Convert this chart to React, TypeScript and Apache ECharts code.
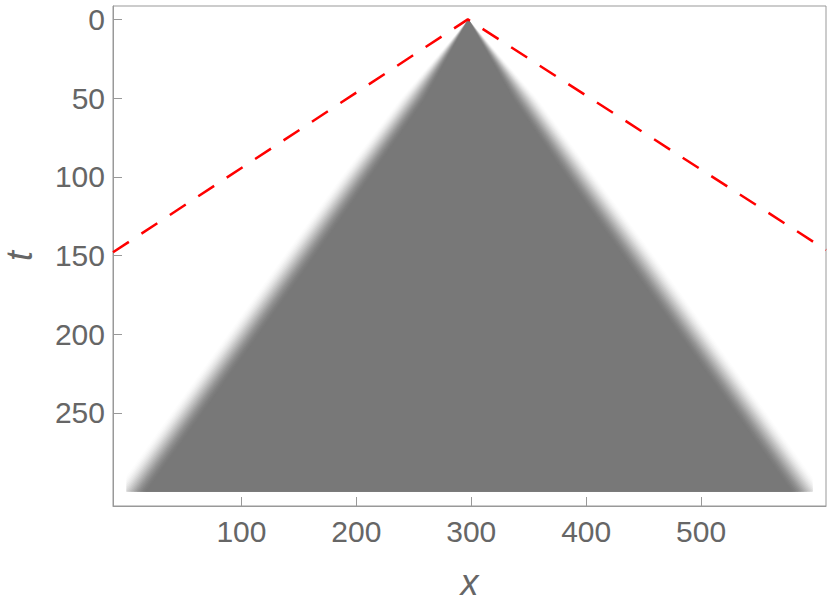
import React, { useEffect, useRef } from "react";
import * as echarts from "echarts";

// Light-cone density: edge mid-lines and blur width (x units) at sampled t
const coneT = [0, 50, 100, 150, 200, 250, 300];
const coneLeft = [297.5, 249, 199, 150, 101, 52, 3];
const coneRight = [297.5, 347, 396, 446, 495, 544, 593];
const coneBlur = [0, 22, 26, 28, 28, 28, 28];
const coneXRange = [0, 597];
const coneGray = 120;

// Red dashed bound
const redX = [-11.8, 297, 608.7];
const redT = [148, 0, 146.5];

const xTicks = [100, 200, 300, 400, 500];
const tTicks = [0, 50, 100, 150, 200, 250];

type P = [number, number];

function clipPoly(pts: P[], xmin: number, xmax: number): P[] {
  const clipEdge = (input: P[], inside: (p: P) => boolean, xe: number): P[] => {
    const out: P[] = [];
    for (let i = 0; i < input.length; i++) {
      const cur = input[i];
      const prev = input[(i + input.length - 1) % input.length];
      const ci = inside(cur);
      const pi = inside(prev);
      const inter = (): P => {
        const tt = (xe - prev[0]) / (cur[0] - prev[0]);
        return [xe, prev[1] + tt * (cur[1] - prev[1])];
      };
      if (ci) {
        if (!pi) out.push(inter());
        out.push(cur);
      } else if (pi) {
        out.push(inter());
      }
    }
    return out;
  };
  let r = clipEdge(pts, (p) => p[0] >= xmin, xmin);
  r = clipEdge(r, (p) => p[0] <= xmax, xmax);
  return r;
}

export default function App() {
  const ref = useRef<HTMLDivElement>(null);
  useEffect(() => {
    if (!ref.current) return;
    const chart = echarts.init(ref.current, undefined, { renderer: "svg" });
    const N = 22;
    const labelFont = "Liberation Sans";
    const option: any = {
      animation: false,
      backgroundColor: "#ffffff",
      grid: {
        left: 113,
        top: 6,
        right: 4,
        bottom: 103,
        show: true,
        borderColor: "#999999",
        borderWidth: 1,
        backgroundColor: "transparent",
        containLabel: false,
        outerBoundsMode: "none",
      },
      xAxis: {
        type: "value",
        min: -11.8,
        max: 608.7,
        axisLine: { show: true, onZero: false, lineStyle: { color: "#999999", width: 1 } },
        axisTick: { show: true, inside: true, length: 9, customValues: xTicks, lineStyle: { color: "#999999" } },
        axisLabel: { customValues: xTicks, color: "#666666", fontSize: 30, fontFamily: labelFont, margin: 10 },
        splitLine: { show: false },
        name: "x",
        nameLocation: "middle",
        nameGap: 58,
        nameTextStyle: { fontStyle: "italic", fontSize: 36, color: "#666666", fontFamily: labelFont },
      },
      yAxis: {
        type: "value",
        inverse: true,
        min: -8.5,
        max: 309.2,
        axisLine: { show: true, onZero: false, lineStyle: { color: "#999999", width: 1 } },
        axisTick: { show: true, inside: true, length: 9, customValues: tTicks, lineStyle: { color: "#999999" } },
        axisLabel: { customValues: tTicks, color: "#666666", fontSize: 30, fontFamily: labelFont, margin: 8 },
        splitLine: { show: false },
        name: "t",
        nameLocation: "middle",
        nameRotate: 90,
        nameGap: 79,
        nameTextStyle: {
          fontStyle: "italic",
          fontSize: 36,
          lineHeight: 30,
          color: "#666666",
          fontFamily: labelFont,
        },
      },
      series: [
        {
          type: "custom",
          coordinateSystem: "cartesian2d",
          silent: true,
          z: 1,
          data: [[coneLeft[0], coneT[0]]],
          renderItem: (params: any, api: any) => {
            const children: any[] = [];
            for (let k = 0; k < N; k++) {
              const o = 0.5 - k / (N - 1);
              const s = (k + 0.5) / N;
              const f = s * s * (3 - 2 * s);
              const v = Math.round(255 - (255 - coneGray) * f);
              const left: P[] = [];
              const right: P[] = [];
              for (let i = 0; i < coneT.length; i++) {
                const c = (coneLeft[i] + coneRight[i]) / 2;
                const h = Math.max(0, (coneRight[i] - coneLeft[i]) / 2 + o * coneBlur[i]);
                left.push([c - h, coneT[i]]);
                right.push([c + h, coneT[i]]);
              }
              let poly: P[] = [...left, ...right.reverse()];
              poly = clipPoly(poly, coneXRange[0], coneXRange[1]);
              children.push({
                type: "polygon",
                shape: { points: poly.map((p) => api.coord(p)) },
                style: { fill: `rgb(${v},${v},${v})` },
                silent: true,
              });
            }
            return { type: "group", children };
          },
        },
        {
          type: "line",
          z: 5,
          clip: true,
          symbol: "none",
          data: redX.map((x, i) => [x, redT[i]]),
          lineStyle: { color: "#ff0000", width: 2.5, type: [19, 15] },
        },
      ],
    };
    chart.setOption(option);
    return () => chart.dispose();
  }, []);
  return (
    <div
      ref={ref}
      style={{ position: "fixed", left: 0, top: 0, width: 830, height: 609, background: "#fff" }}
    />
  );
}
